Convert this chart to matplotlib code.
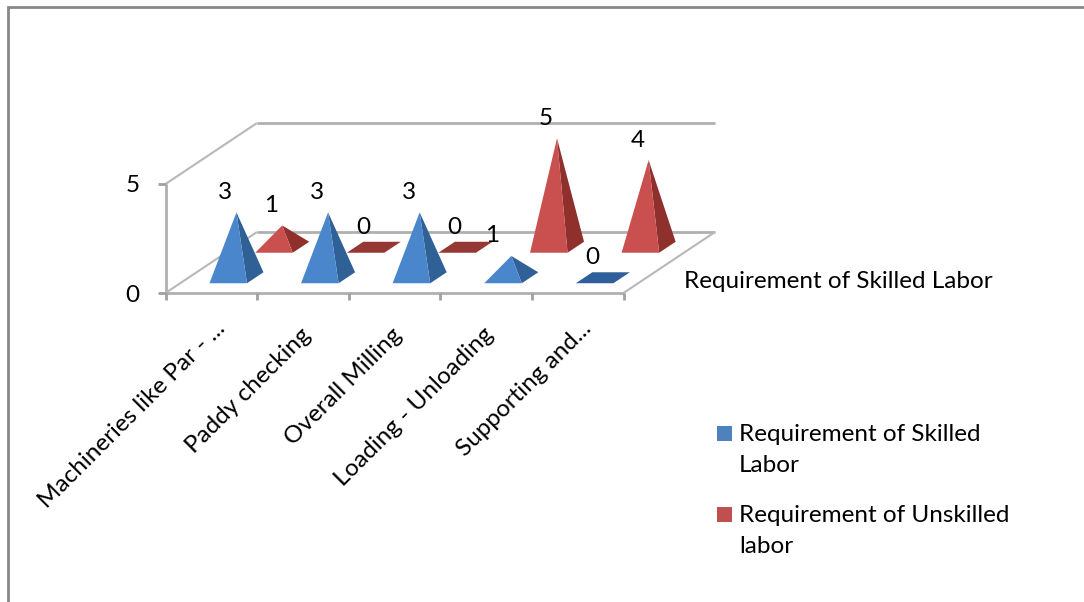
import matplotlib
matplotlib.use("Agg")
import matplotlib.pyplot as plt
from matplotlib.patches import Polygon, Rectangle

plt.rcParams['font.family'] = ['Lato', 'DejaVu Sans']

categories = ["Machineries like Par - ...", "Paddy checking", "Overall Milling",
              "Loading - Unloading", "Supporting and..."]
skilled = [3, 3, 3, 1, 0]
unskilled = [1, 0, 0, 5, 4]
y_ticks = [0, 5]
series_names = ["Requirement of Skilled Labor", "Requirement of Unskilled labor"]

W, H = 1084, 602
FS = 17.5
fig = plt.figure(figsize=(W / 100, H / 100), dpi=100)
ax = fig.add_axes([0, 0, 1, 1])
ax.set_xlim(0, W)
ax.set_ylim(H, 0)
ax.axis('off')

# oblique projection of the chart box onto the page
X0, Y0 = 165.5, 293.0      # front-left floor corner
UNIT_X = 91.6              # page width of one category
DEPTH_X, DEPTH_Y = 91.5, -61.0
UNIT_V = 21.8              # page height of one value unit
GREY = '#b0b0b0'


def project(c, d, v=0.0):
    return (X0 + c * UNIT_X + d * DEPTH_X, Y0 + d * DEPTH_Y - v * UNIT_V)


def seg(a, b, **kw):
    style = dict(color=GREY, lw=2.0, solid_capstyle='butt', zorder=1)
    style.update(kw)
    ax.plot([a[0], b[0]], [a[1], b[1]], **style)


n = len(categories)
vmax = y_ticks[-1]

# box walls and floor
seg(project(0, 0), project(n, 0))
seg(project(0, 1), project(n, 1))
seg(project(0, 1, vmax), project(n, 1, vmax))
seg(project(0, 0), project(0, 0, vmax))
for top in (0, vmax):
    seg(project(0, 0, top), project(0, 1, top), lw=1.5, color='#b8b8b8')
seg(project(n, 0), project(n, 1), lw=1.5, color='#b8b8b8')

# axis ticks and labels
for v in y_ticks:
    x, y = project(0, 0, v)
    seg((x - 8, y), (x, y), color='#a0a0a0')
    ax.text(x - 33, y + 2, str(v), fontsize=FS, ha='center', va='center', color='black')
for i in range(n + 1):
    x, y = project(i, 0)
    seg((x, y), (x, y + 7), color='#a0a0a0')
for i, name in enumerate(categories):
    x, y = project(i + 0.5, 0)
    # truncated names sit a little further along the slanted baseline
    nudge = 6 if name.endswith("...") else 0
    ax.text(x - 3 + nudge, y + 31 - nudge, name, fontsize=FS, rotation=45, ha='right', va='top',
            rotation_mode='anchor', color='black')
ax.text(684, 281, series_names[0], fontsize=FS, ha='left', va='center', color='black')


def pyramid(c, depth, value, front, side, flat, label_dx=-11):
    """One pyramid standing on the floor at category c, series depth `depth`."""
    hw, hd = 0.205, 0.09
    cc = c + 0.525
    fl = project(cc - hw, depth - hd)
    fr = project(cc + hw, depth - hd)
    br = project(cc + hw, depth + hd)
    bl = project(cc - hw, depth + hd)
    apex = project(cc, depth, value)
    if value == 0:
        ax.add_patch(Polygon([fl, fr, br, bl], closed=True, fc=flat, ec='none', zorder=3))
    else:
        ax.add_patch(Polygon([fr, br, apex], closed=True, fc=side, ec='none', zorder=3))
        ax.add_patch(Polygon([fl, fr, apex], closed=True, fc=front, ec='none', zorder=3))
    ax.text(apex[0] + label_dx, apex[1] - 20, str(value), fontsize=FS, ha='center',
            va='center', color='black', zorder=5)


# rear row first so the front row overlaps it
for i, v in enumerate(unskilled):
    pyramid(i, 0.75, v, '#c9504e', '#8f302d', '#953735')
for i, v in enumerate(skilled):
    pyramid(i, 0.25, v, '#4a86cc', '#2f6096', '#2f5f9a', label_dx=-19 if v == 1 else -11)

# legend
legend_rows = [(426, '#4f81bd', "Requirement of Skilled\nLabor"),
               (507, '#c0504d', "Requirement of Unskilled\nlabor")]
for y, colour, label in legend_rows:
    ax.add_patch(Rectangle((717, y), 15, 15, fc=colour, ec='none'))
    ax.text(739, y - 2, label, fontsize=FS, ha='left', va='top', linespacing=1.57, color='black')

# outer frame of the chart area
ax.plot([8, 8, W], [H, 7, 7], color='#888888', lw=2, solid_joinstyle='miter')

fig.savefig('out.png', dpi=100, facecolor='white')
